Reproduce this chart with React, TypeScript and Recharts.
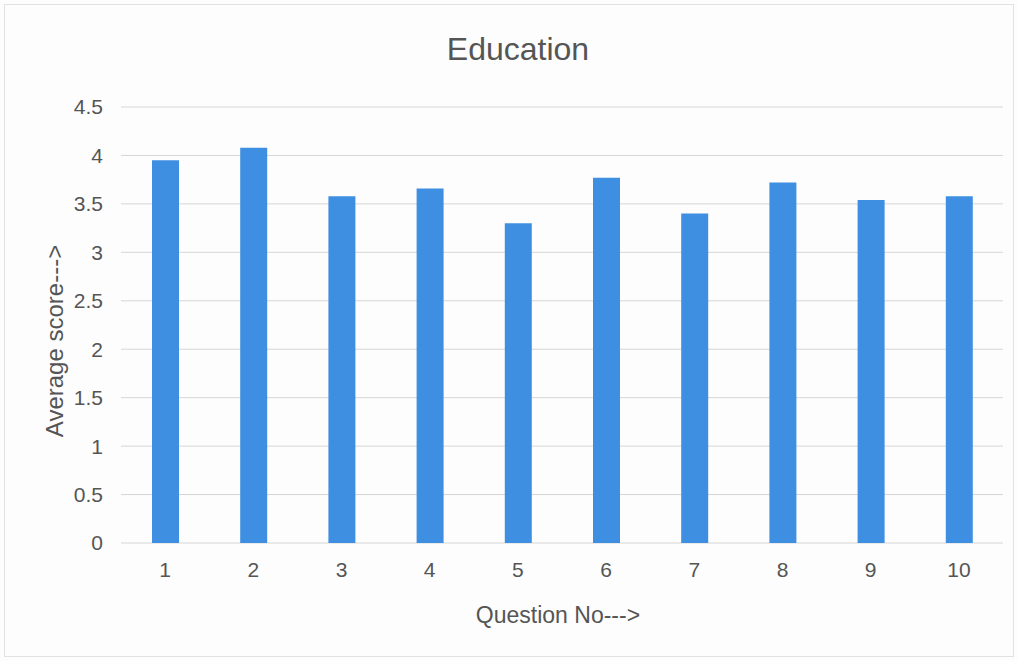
import { BarChart, Bar, XAxis, YAxis, CartesianGrid } from 'recharts'

const questions = ['1', '2', '3', '4', '5', '6', '7', '8', '9', '10']
const averageScores = [3.95, 4.08, 3.58, 3.66, 3.3, 3.77, 3.4, 3.72, 3.54, 3.58]
const yTicks = [0, 0.5, 1, 1.5, 2, 2.5, 3, 3.5, 4, 4.5]

const chartData = questions.map((q, i) => ({ question: q, score: averageScores[i] }))

const FONT = '"Liberation Sans", Arial, sans-serif'

export default function App() {
  return (
    <div
      style={{
        position: 'fixed',
        top: 0,
        left: 0,
        width: 1018,
        height: 661,
        background: '#fdfdfd',
        fontFamily: FONT,
      }}
    >
      <div
        style={{
          position: 'absolute',
          top: 4,
          left: 4,
          right: 4,
          bottom: 4,
          border: '1px solid #e2e2e2',
        }}
      />
      <div
        style={{
          position: 'absolute',
          top: 31,
          left: 0,
          width: 1036,
          textAlign: 'center',
          fontSize: 32,
          color: '#555',
        }}
      >
        Education
      </div>
      <BarChart
        width={1018}
        height={661}
        data={chartData}
        margin={{ top: 107, right: 15, bottom: 18, left: 0 }}
        barSize={27}
        style={{ position: 'absolute', top: 0, left: 0 }}
      >
        <CartesianGrid vertical={false} stroke="#d6d6d6" />
        <XAxis
          dataKey="question"
          axisLine={false}
          tickLine={false}
          tickSize={0}
          tickMargin={19}
          height={100}
          tick={{ fontSize: 21, fill: '#555', fontFamily: FONT }}
          label={{
            value: 'Question No--->',
            position: 'insideBottom',
            offset: 20,
            dx: -4,
            fontSize: 23,
            fill: '#555',
            fontFamily: FONT,
          }}
        />
        <YAxis
          domain={[0, 4.5]}
          ticks={yTicks}
          interval={0}
          axisLine={false}
          tickLine={false}
          tickSize={0}
          tickMargin={18}
          width={121}
          tick={{ fontSize: 21, fill: '#555', fontFamily: FONT }}
          label={{
            value: 'Average score--->',
            angle: -90,
            position: 'center',
            dx: -6,
            dy: 16,
            fontSize: 24,
            fill: '#555',
            fontFamily: FONT,
          }}
        />
        <Bar dataKey="score" fill="#3e8fe2" isAnimationActive={false} />
      </BarChart>
    </div>
  )
}
